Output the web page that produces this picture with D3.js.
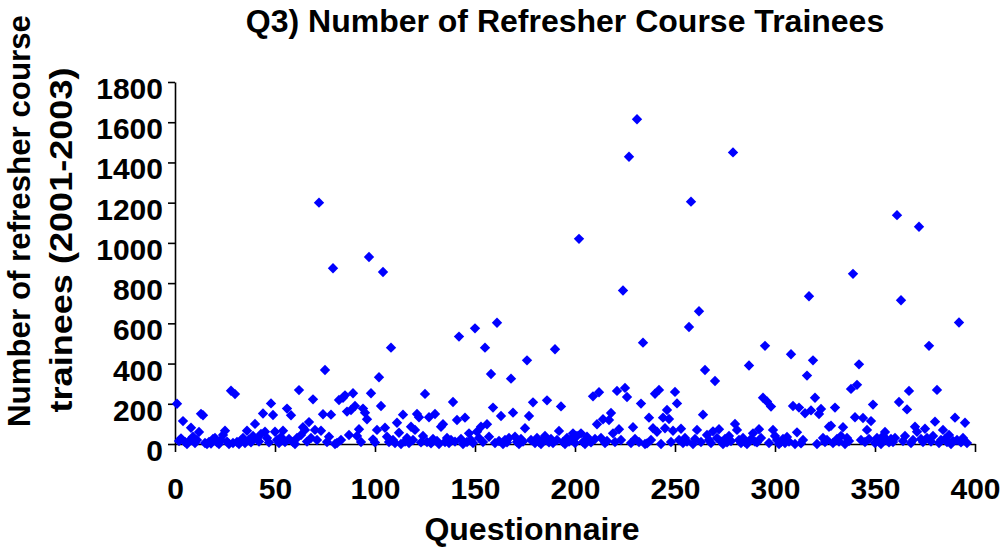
<!DOCTYPE html>
<html>
<head>
<meta charset="utf-8">
<script src="https://cdnjs.cloudflare.com/ajax/libs/d3/7.8.5/d3.min.js"></script>
<style>
body { margin: 0; background: #fff; }
text { font-family: "Liberation Sans", Arial, sans-serif; font-weight: bold; fill: #000; }
</style>
</head>
<body>
<svg id="chart" width="1007" height="547"></svg>
<script>
// trainees per questionnaire (questionnaire number = position + 1)
var trainees = [
  200, 15, 28, 114, 10, 0, 15, 81, 36, 5,
  20, 60, 150, 143, 5, 0, 10, 2, 25, 30,
  8, 0, 20, 45, 66, 12, 0, 265, 5, 248,
  10, 0, 18, 30, 5, 66, 22, 8, 40, 100,
  25, 12, 50, 152, 61, 30, 8, 202, 144, 61,
  20, 5, 35, 66, 10, 176, 25, 143, 10, 0,
  30, 268, 45, 83, 70, 12, 109, 30, 222, 70,
  20, 1200, 66, 148, 368, 10, 36, 146, 874, 0,
  5, 219, 20, 230, 242, 161, 45, 169, 252, 189,
  40, 73, 10, 176, 156, 123, 930, 252, 23, 8,
  70, 332, 189, 855, 81, 36, 10, 479, 20, 5,
  106, 56, 0, 146, 12, 30, 5, 86, 20, 70,
  149, 133, 8, 40, 249, 10, 133, 3, 25, 149,
  15, 0, 86, 98, 10, 30, 5, 20, 209, 12,
  119, 534, 25, 0, 131, 10, 53, 20, 5, 575,
  61, 30, 86, 10, 479, 98, 36, 348, 181, 5,
  603, 15, 139, 0, 20, 8, 30, 325, 156, 36,
  10, 0, 25, 12, 78, 416, 139, 20, 207, 5,
  30, 10, 0, 18, 40, 217, 8, 25, 5, 471,
  20, 65, 187, 10, 0, 30, 12, 25, 53, 5,
  40, 1020, 53, 10, 0, 36, 20, 8, 237, 25,
  98, 257, 30, 123, 5, 15, 119, 154, 53, 10,
  264, 73, 20, 763, 279, 234, 1428, 5, 83, 25,
  1615, 10, 201, 504, 0, 3, 131, 20, 78, 250,
  61, 269, 0, 131, 78, 169, 124, 10, 66, 259,
  202, 20, 76, 5, 30, 12, 582, 1205, 0, 25,
  70, 660, 10, 146, 368, 45, 20, 5, 63, 313,
  30, 73, 12, 0, 25, 8, 40, 15, 1450, 100,
  70, 20, 5, 30, 10, 0, 390, 25, 53, 12,
  8, 73, 30, 230, 488, 211, 5, 186, 70, 40,
  20, 0, 10, 25, 5, 35, 12, 446, 189, 0,
  58, 181, 3, 20, 153, 340, 735, 167, 416, 230,
  0, 149, 174, 30, 10, 20, 86, 91, 5, 181,
  25, 12, 40, 83, 0, 30, 15, 274, 846, 133,
  294, 396, 20, 129, 10, 70, 25, 114, 196, 5,
  30, 12, 0, 40, 60, 20, 8, 25, 10, 30,
  1138, 209, 715, 15, 40, 172, 264, 5, 20, 86,
  61, 1080, 25, 10, 76, 30, 488, 12, 40, 111,
  269, 5, 20, 70, 25, 10, 45, 0, 15, 131,
  20, 604, 8, 30, 106, 5
];

var xTicks = [0, 50, 100, 150, 200, 250, 300, 350, 400];
var yTicks = [0, 200, 400, 600, 800, 1000, 1200, 1400, 1600, 1800];

var chartTitle = "Q3) Number of Refresher Course Trainees";
var xTitle = "Questionnaire";
var yTitle = ["Number of refresher course", "trainees (2001-2003)"];

var svg = d3.select("#chart");

var x = d3.scaleLinear().domain([0, 400]).range([175, 975]);
var y = d3.scaleLinear().domain([0, 1800]).range([444, 82]);

var points = trainees.map(function(v, i) { return {q: i + 1, v: v}; });

// axes
var yAxis = svg.append("g")
    .attr("transform", "translate(175,0)")
    .call(d3.axisLeft(y).tickValues(yTicks).tickFormat(d3.format("d"))
      .tickSize(7).tickSizeOuter(0).tickPadding(5));

var xAxis = svg.append("g")
    .attr("transform", "translate(0,444)")
    .call(d3.axisBottom(x).tickValues(xTicks).tickFormat(d3.format("d"))
      .tickSize(8).tickSizeOuter(0).tickPadding(24));

svg.selectAll(".domain, .tick line")
    .attr("stroke", "#000")
    .attr("stroke-width", 1.6);

yAxis.selectAll(".tick text")
    .style("font-size", "30px")
    .attr("dy", "0.55em");

xAxis.selectAll(".tick text")
    .style("font-size", "30px")
    .attr("dy", "0.75em");

// markers
svg.append("g")
  .selectAll("path")
  .data(points)
  .enter()
  .append("path")
    .attr("d", d3.symbol().type(d3.symbolSquare).size(54))
    .attr("transform", function(d) { return "translate(" + x(d.q) + "," + y(d.v) + ") rotate(45)"; })
    .attr("fill", "#0000ff");

// titles
svg.append("text")
    .attr("x", 565).attr("y", 32)
    .attr("text-anchor", "middle")
    .style("font-size", "32px")
    .text(chartTitle);

svg.append("text")
    .attr("x", 532).attr("y", 540)
    .attr("text-anchor", "middle")
    .style("font-size", "32px")
    .text(xTitle);

var yTitleSpec = [{cx: 30, cy: 221, len: 412}, {cx: 72, cy: 240, len: 345}];

svg.append("g")
    .selectAll("text")
    .data(yTitle)
    .enter()
    .append("text")
    .attr("transform", function(d, i) { return "translate(" + yTitleSpec[i].cx + "," + yTitleSpec[i].cy + ") rotate(-90)"; })
    .attr("text-anchor", "middle")
    .attr("textLength", function(d, i) { return yTitleSpec[i].len; })
    .attr("lengthAdjust", "spacingAndGlyphs")
    .style("font-size", "31px")
    .text(function(d) { return d; });
</script>
</body>
</html>
